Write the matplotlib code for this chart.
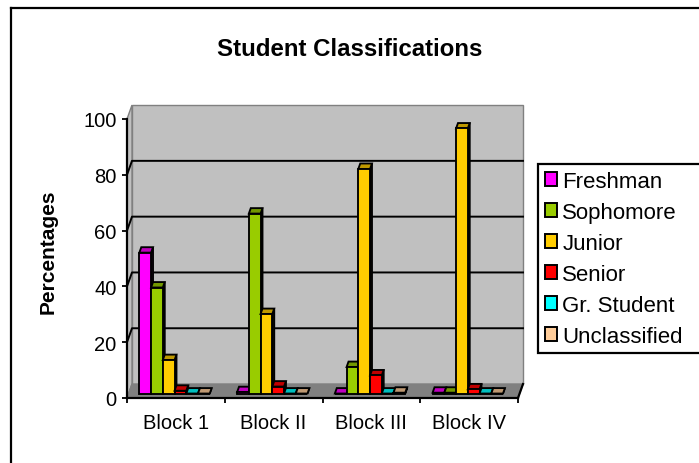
import matplotlib.pyplot as plt
import matplotlib.colors as mcolors
from matplotlib.patches import Polygon, Patch
from matplotlib.lines import Line2D

plt.rcParams['font.family'] = ['Liberation Sans', 'DejaVu Sans']

# percentages of each class in each block
blocks = ["Block 1", "Block II", "Block III", "Block IV"]
classes = ["Freshman", "Sophomore", "Junior", "Senior", "Gr. Student", "Unclassified"]
freshman = [50.5, 0.5, 0, 0.3]
sophomore = [38, 64.5, 9.5, 0.3]
junior = [12, 28.5, 80.5, 95]
senior = [1, 2.5, 6.5, 1.5]
gr_student = [0, 0, 0, 0]
unclassified = [0, 0, 0.3, 0]
colors = ["#FF00FF", "#99CC00", "#FFCC00", "#FF0000", "#00FFFF", "#FFCC99"]

data = [freshman, sophomore, junior, senior, gr_student, unclassified]

W, H = 699, 464
fig = plt.figure(figsize=(W / 100, H / 100), dpi=100)
ax = fig.add_axes([127 / W, 65 / H, 391 / W, 279 / H])
ax.set_xlim(0, len(blocks))
ax.set_ylim(0, 100)
ax.set_facecolor('none')

# depth of the 3d box, in data units
DX, DY = 0.051, 5.0
n = len(blocks)


def shade(c, k):
    r, g, b = mcolors.to_rgb(c)
    return (r * k, g * k, b * k)


wall_kw = dict(closed=True, clip_on=False, ec="#808080", lw=1.0)
ax.add_patch(Polygon([(DX, DY), (n + DX, DY), (n + DX, 100 + DY), (DX, 100 + DY)],
                     fc="#C0C0C0", zorder=0.1, **wall_kw))
ax.add_patch(Polygon([(0, 0), (DX, DY), (DX, 100 + DY), (0, 100)],
                     fc="#C0C0C0", zorder=0.2, **wall_kw))
ax.add_patch(Polygon([(0, 0), (n, 0), (n + DX, DY), (DX, DY)],
                     fc="#808080", zorder=0.2, **wall_kw))
ax.plot([n, n + DX], [0, DY], color="k", lw=1.6, clip_on=False, zorder=0.4)

for g in range(20, 100, 20):
    ax.plot([0, DX, n + DX], [g, g + DY, g + DY], color="k", lw=1.4,
            clip_on=False, zorder=0.3)

# bars
BW = 0.12
START = 0.11
F0, F1 = 0.32, 0.71
ddx, ddy = (F1 - F0) * DX, (F1 - F0) * DY
for i in range(n):
    for j, vals in enumerate(data):
        v = vals[i]
        c = colors[j]
        x0 = i + START + j * BW + F0 * DX
        x1 = x0 + BW
        y0 = F0 * DY
        y1 = y0 + v
        z = 5 + 2 * j
        ax.add_patch(Polygon([(x1, y0), (x1 + ddx, y0 + ddy), (x1 + ddx, y1 + ddy), (x1, y1)],
                             closed=True, fc=shade(c, 0.45), ec="k", lw=1.35,
                             clip_on=False, zorder=z))
        ax.add_patch(Polygon([(x0, y1), (x1, y1), (x1 + ddx, y1 + ddy), (x0 + ddx, y1 + ddy)],
                             closed=True, fc=shade(c, 0.75), ec="k", lw=1.35,
                             clip_on=False, zorder=z))
        ax.bar(x0, v, width=BW, bottom=y0, align="edge", color=c, edgecolor="k",
               linewidth=1.35, clip_on=False, zorder=z + 1)

for s in ["top", "right"]:
    ax.spines[s].set_visible(False)
for s in ["left", "bottom"]:
    ax.spines[s].set_linewidth(1.6)
    ax.spines[s].set_zorder(1)

ax.set_yticks(range(0, 101, 20))
ax.tick_params(axis="y", direction="out", length=3.6, width=1.3, labelsize=14.5, pad=4)
ax.set_xticks(range(n + 1))
ax.set_xticklabels([])
ax.tick_params(axis="x", which="major", direction="out", length=3.6, width=1.3)
ax.set_xticks([i + 0.5 for i in range(n)], minor=True)
ax.set_xticklabels(blocks, minor=True)
ax.tick_params(axis="x", which="minor", length=0, labelsize=14.5, pad=11)

fig.text(350 / W, 1 - 49 / H, "Student Classifications", ha="center", va="center",
         fontsize=17.3, fontweight="bold")
fig.text(48 / W, 1 - 252 / H, "Percentages", rotation=90, ha="center", va="center",
         fontsize=15, fontweight="bold")

handles = [Patch(fc=c, ec="k", lw=1.4) for c in colors]
leg = ax.legend(handles, classes, loc="upper left",
                bbox_to_anchor=(538 / W, 1 - 390 / H, 200 / W, 225 / H),
                bbox_transform=fig.transFigure, mode="expand", borderaxespad=0,
                fancybox=False, framealpha=1, edgecolor="k", fontsize=16,
                handlelength=0.55, handleheight=0.55, handletextpad=0.25,
                labelspacing=0.45, borderpad=0.3)
leg.get_frame().set_linewidth(1.6)

# chart area border
fig.add_artist(Line2D([11 / W, 11 / W], [0, 1 - 9 / H], transform=fig.transFigure,
                      color="k", lw=1.6))
fig.add_artist(Line2D([11 / W, 1], [1 - 9 / H, 1 - 9 / H], transform=fig.transFigure,
                      color="k", lw=1.6))

fig.savefig("out.png", dpi=100)
